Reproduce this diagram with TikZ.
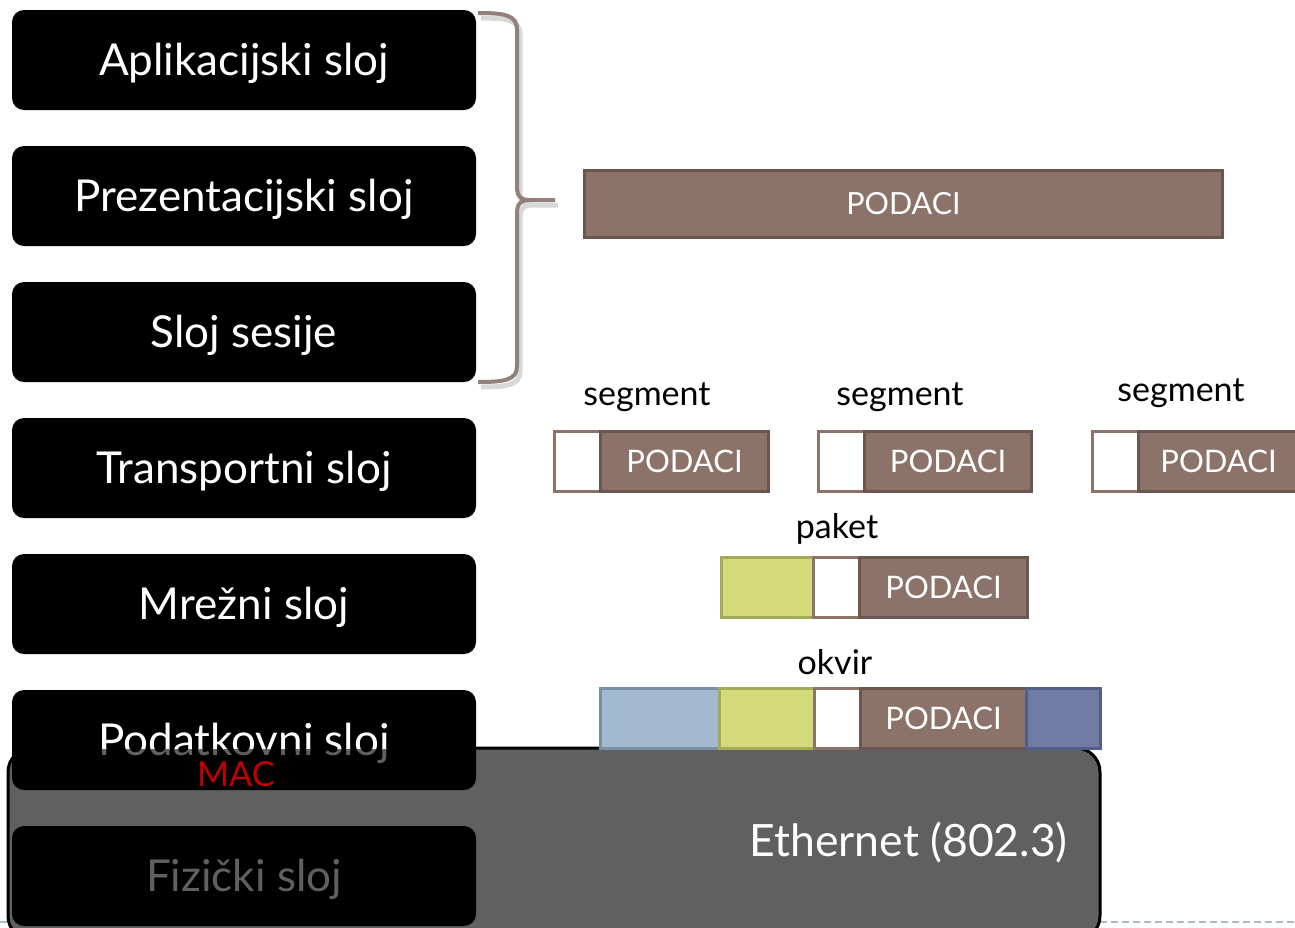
\documentclass[tikz,border=0pt]{standalone}
\usepackage{fontspec}
\setmainfont{Lato}
\definecolor{brn}{HTML}{8C7369}
\definecolor{brnd}{HTML}{6B5750}
\definecolor{brc}{HTML}{94807A}
\definecolor{grn}{HTML}{D4DA7A}
\definecolor{grnd}{HTML}{A3AA58}
\definecolor{blg}{HTML}{A2B9CF}
\definecolor{blgd}{HTML}{7A8FA6}
\definecolor{dbl}{HTML}{6F7BA2}
\definecolor{dbld}{HTML}{545E86}
\definecolor{ethg}{HTML}{606060}
\definecolor{dashc}{HTML}{A8BCCE}
\definecolor{macred}{HTML}{C00000}
\newcommand\bracepathcmd{(478,13) .. controls (505,13) and (517,15) .. (517,30) -- (517,186) .. controls (517,196) and (520,200) .. (530,200) -- (555,200) (530,200) .. controls (520,200) and (517,204) .. (517,214) -- (517,366) .. controls (517,380) and (505,382) .. (478,382)}
\begin{document}
\begin{tikzpicture}[x=1pt,y=-1pt,
  layerbox/.style={fill=black, rounded corners=12pt, minimum width=464pt, minimum height=100pt, inner sep=0pt},
  layertext/.style={text=white, font=\fontsize{44}{48}\selectfont, inner sep=0pt},
  cell/.style={draw=#1, line width=3pt, inner sep=0pt, minimum height=60pt, anchor=north west},
  datab/.style={cell=brnd, fill=brn, text=white, font=\fontsize{31}{34}\selectfont},
  hdrb/.style={cell=brn, fill=white},
  lbl/.style={text=black, font=\fontsize{34}{37}\selectfont, inner sep=0pt}
]
\useasboundingbox (0,0) rectangle (1295,927);
% dashed base line
\draw[dashc, line width=1.5pt, dash pattern=on 7pt off 4pt] (0,922) -- (1295,922);
% ethernet box
\draw[fill=ethg, draw=black, line width=3pt, rounded corners=24pt] (8,748) rectangle (1100,940);
\node[text=white, font=\fontsize{44.5}{48}\selectfont, anchor=east, inner sep=0pt] (eth) at (1068,842) {Ethernet (802.3)};
% layer boxes
\node[layerbox] (app) at (244,60) {};
\node[layertext] (appt) at (244,63) {Aplikacijski sloj};
\node[layerbox] (pre) at (244,196) {};
\node[layertext] (pret) at (244,199) {Prezentacijski sloj};
\node[layerbox] (ses) at (244,332) {};
\node[layertext] (sest) at (244,335) {Sloj sesije};
\node[layerbox] (tra) at (244,468) {};
\node[layertext] (trat) at (244,471) {Transportni sloj};
\node[layerbox] (mre) at (244,604) {};
\node[layertext] (mret) at (244,607) {Mrežni sloj};
\node[layerbox] (pod) at (244,740) {};
\begin{scope}
\clip (0,0) rectangle (500,749.5);
\node[layertext] (podt) at (244,743) {Podatkovni sloj};
\end{scope}
\begin{scope}
\clip (0,749.5) rectangle (500,800);
\node[layertext, text=ethg] (podg) at (244,743) {Podatkovni sloj};
\end{scope}
\node[layerbox] (fiz) at (244,876) {};
\node[layertext, text=ethg] (fizt) at (244,879) {Fizički sloj};
\node[text=macred, font=\fontsize{34.5}{37}\selectfont, inner sep=0pt] (mac) at (236,774) {MAC};
% brace
\begin{scope}[shift={(3,5)}]
\draw[gray!60, opacity=0.5, line width=5pt] \bracepathcmd;
\end{scope}
\draw[brc, line width=4pt] \bracepathcmd;
% big data
\node[cell=brnd, fill=brn, minimum width=638pt, minimum height=67pt, text=white, font=\fontsize{30.5}{33}\selectfont] (data) at (583,169) {PODACI};
% segments
\node[hdrb, minimum width=46pt] (s1h) at (553,430) {};
\node[datab, minimum width=168pt] (s1d) at (599,430) {PODACI};
\node[lbl] (s1l) at (647,397) {segment};
\node[hdrb, minimum width=46pt] (s2h) at (817,430) {};
\node[datab, minimum width=167pt] (s2d) at (863,430) {PODACI};
\node[lbl] (s2l) at (900,397) {segment};
\node[hdrb, minimum width=46pt] (s3h) at (1091,430) {};
\node[datab, minimum width=170pt] (s3d) at (1137,430) {\hspace*{-10pt}PODACI};
\node[lbl] (s3l) at (1181,393) {segment};
% packet
\node[cell=grnd, fill=grn, minimum width=92pt] (p1) at (720,556) {};
\node[hdrb, minimum width=46pt] (p2) at (812,556) {};
\node[datab, minimum width=168pt] (p3) at (858,556) {PODACI};
\node[lbl] (pl) at (837,529) {paket};
% frame
\node[cell=blgd, fill=blg, minimum width=119pt] (f1) at (599,687) {};
\node[cell=grnd, fill=grn, minimum width=95pt] (f2) at (718,687) {};
\node[hdrb, minimum width=46pt] (f3) at (813,687) {};
\node[datab, minimum width=166pt] (f4) at (859,687) {PODACI};
\node[cell=dbld, fill=dbl, minimum width=74pt] (f5) at (1025,687) {};
\node[lbl] (fl) at (835,662) {okvir};
\end{tikzpicture}
\end{document}
